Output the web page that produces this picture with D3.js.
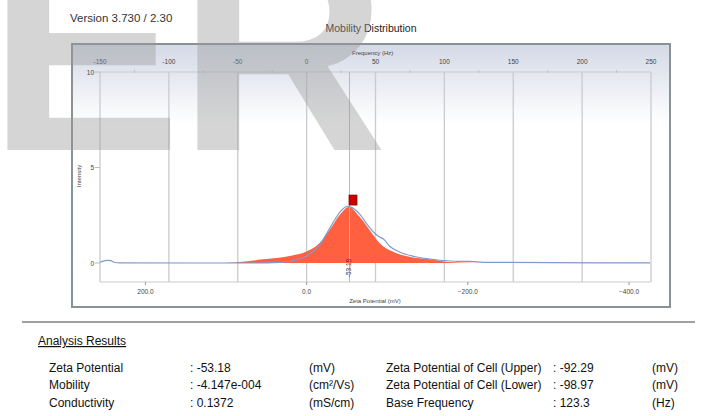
<!DOCTYPE html>
<html><head><meta charset="utf-8">
<script src="https://cdn.jsdelivr.net/npm/d3@7"></script>
<style>
body{margin:0;background:#fff;}
svg{display:block;font-family:"Liberation Sans",Arial,sans-serif;}
</style></head>
<body><svg id="c" width="702" height="416"></svg>
<script>
// ---- data ----
const freqTicks = [-150,-100,-50,0,50,100,150,200,250];
const freqMinor = [-125,-75,-25,25,75,125,175,225];
const zetaTicks = [200,0,-200,-400];
const intensityTicks = [0,5,10];
const mvPerHz = 1.709; // zeta (mV) = -mvPerHz * frequency (Hz)
// measured distribution (red fill)
const distFreq = [-60,-46.4,-31.9,-12.3,-0.2,9.4,16.7,23.9,30.7,38.4,45.7,52.9,62.3,74.6,89.1,100,110.9,125];
const distInt  = [0,0.06,0.19,0.37,0.6,1.05,1.73,2.51,2.93,2.42,1.73,1.05,0.6,0.33,0.19,0.08,0.02,0];
// fitted curve (blue line)
const fitFreq = [-150,-147.8,-144.9,-142,-139.9,-135.5,-77.5,-41.3,-19.6,-12.3,-5.1,2.2,9.4,15.2,20.3,25.4,29.7,32.6,38.4,44.2,49.3,52.9,55.8,60.1,67.4,78.3,89.1,100,110.9,118.1,125.4,139.9,212.3,249.3];
const fitInt  = [0.04,0.1,0.14,0.12,0.04,0.01,0,0,0.03,0.08,0.21,0.47,0.94,1.62,2.25,2.77,2.96,2.91,2.57,2.0,1.57,1.36,1.26,0.89,0.58,0.34,0.21,0.13,0.08,0.09,0.05,0.03,0.01,0.01];
const peakZeta = -53.18;
const resultsLeft = [["Zeta Potential",": -53.18","(mV)"],["Mobility",": -4.147e-004","(cm²/Vs)"],["Conductivity",": 0.1372","(mS/cm)"]];
const resultsRight = [["Zeta Potential of Cell (Upper)",": -92.29","(mV)"],["Zeta Potential of Cell (Lower)",": -98.97","(mV)"],["Base Frequency",": 123.3","(Hz)"]];

const svg = d3.select("#c");
const defs = svg.append("defs");
const g = defs.append("linearGradient").attr("id","bg").attr("x1",0).attr("y1",0).attr("x2",0).attr("y2",1);
g.append("stop").attr("offset","0%").attr("stop-color","#d3d9e6");
g.append("stop").attr("offset","30%").attr("stop-color","#ffffff");
g.append("stop").attr("offset","100%").attr("stop-color","#ffffff");

// texts above
svg.append("text").attr("x",70).attr("y",22).attr("font-size",11.5).attr("fill","#333").text("Version 3.730 / 2.30");
svg.append("text").attr("x",371).attr("y",32).attr("text-anchor","middle").attr("font-size",10.5).attr("fill","#222").text("Mobility Distribution");

// panel
svg.append("rect").attr("x",72).attr("y",44).attr("width",598).attr("height",263)
  .attr("fill","url(#bg)").attr("stroke","#8a9298").attr("stroke-width",2);

const x = d3.scaleLinear().domain([-150,250]).range([100,651]);
const z = d3.scaleLinear().domain([150*mvPerHz,-250*mvPerHz]).range([100,651]);
const y = d3.scaleLinear().domain([0,10]).range([263,72]);
const yTop=72, yBot=282;

// gridlines
svg.append("g").selectAll("line").data(freqTicks).join("line")
  .attr("x1",d=>x(d)).attr("x2",d=>x(d)).attr("y1",yTop).attr("y2",yBot)
  .attr("stroke","#c9cbd0").attr("stroke-width",1.3);
// top axis line
svg.append("line").attr("x1",100).attr("x2",651).attr("y1",yTop).attr("y2",yTop).attr("stroke","#c9cbd0");
svg.append("g").selectAll("line").data(freqMinor).join("line")
  .attr("x1",d=>x(d)).attr("x2",d=>x(d)).attr("y1",yTop-2).attr("y2",yTop+1).attr("stroke","#c0c2c8");
svg.append("line").attr("x1",100).attr("x2",651).attr("y1",yBot).attr("y2",yBot).attr("stroke","#c9cbd0");
svg.append("g").selectAll("text").data(freqTicks).join("text")
  .attr("x",d=>x(d)).attr("y",64).attr("text-anchor","middle").attr("font-size",6.5).attr("fill","#444").text(d=>d);
svg.append("text").attr("x",352).attr("y",55).attr("font-size",6).attr("fill","#444").text("Frequency (Hz)");

// bottom zeta axis
svg.append("g").selectAll("line").data(zetaTicks).join("line")
  .attr("x1",d=>z(d)).attr("x2",d=>z(d)).attr("y1",yBot).attr("y2",yBot+3).attr("stroke","#999");
svg.append("g").selectAll("text").data(zetaTicks).join("text")
  .attr("x",d=>z(d)).attr("y",294).attr("text-anchor","middle").attr("font-size",6.5).attr("fill","#444").text(d=>d3.format(".1f")(d));
svg.append("text").attr("x",375).attr("y",302.5).attr("text-anchor","middle").attr("font-size",6).attr("fill","#444").text("Zeta Potential (mV)");

// y axis
svg.append("g").selectAll("text").data(intensityTicks).join("text")
  .attr("x",94).attr("y",d=>y(d)+2.5).attr("text-anchor","end").attr("font-size",6.5).attr("fill","#444").text(d=>d);
svg.append("g").selectAll("line").data(intensityTicks).join("line")
  .attr("x1",95).attr("x2",100).attr("y1",d=>y(d)).attr("y2",d=>y(d)).attr("stroke","#bbb");
svg.append("text").attr("transform","translate(81,176) rotate(-90)").attr("text-anchor","middle").attr("font-size",6).attr("fill","#444").text("Intensity");

// distribution fill
const dist = distFreq.map((f,i)=>[f,distInt[i]]);
svg.append("path").datum(dist)
  .attr("d",d3.area().x(d=>x(d[0])).y0(y(0)).y1(d=>y(d[1])).curve(d3.curveMonotoneX))
  .attr("fill","#ff6040");
// peak line
svg.append("line").attr("x1",z(peakZeta)).attr("x2",z(peakZeta)).attr("y1",yTop).attr("y2",yBot)
  .attr("stroke","#e89ae8").attr("stroke-width",1);
// fit line
const fit = fitFreq.map((f,i)=>[f,fitInt[i]]);
svg.append("path").datum(fit)
  .attr("d",d3.line().x(d=>x(d[0])).y(d=>y(d[1])).curve(d3.curveMonotoneX))
  .attr("fill","none").attr("stroke","#7f9ad0").attr("stroke-width",1.2);
// peak marker
const peakI = d3.max(distInt);
svg.append("rect").attr("x",z(peakZeta)-0.5).attr("y",y(peakI)-12).attr("width",8).attr("height",10)
  .attr("fill","#cc0000").attr("stroke","#7a0000").attr("stroke-width",0.7);
svg.append("text").attr("transform",`translate(${z(peakZeta)+2},268) rotate(-90)`).attr("text-anchor","middle")
  .attr("font-size",6.5).attr("fill","#333").text(peakZeta);

// separator
svg.append("line").attr("x1",22).attr("x2",695).attr("y1",322).attr("y2",322).attr("stroke","#444").attr("stroke-width",1.2);
svg.append("text").attr("x",38).attr("y",345).attr("font-size",12).attr("fill","#111").attr("text-decoration","underline").text("Analysis Results");
const rowY = [372,389,407];
resultsLeft.forEach((r,i)=>{
  svg.append("text").attr("x",49).attr("y",rowY[i]).attr("font-size",12).attr("fill","#111").text(r[0]);
  svg.append("text").attr("x",190).attr("y",rowY[i]).attr("font-size",12).attr("fill","#111").text(r[1]);
  svg.append("text").attr("x",309).attr("y",rowY[i]).attr("font-size",12).attr("fill","#111").text(r[2]);
});
resultsRight.forEach((r,i)=>{
  svg.append("text").attr("x",386).attr("y",rowY[i]).attr("font-size",12).attr("fill","#111").text(r[0]);
  svg.append("text").attr("x",553).attr("y",rowY[i]).attr("font-size",12).attr("fill","#111").text(r[1]);
  svg.append("text").attr("x",652).attr("y",rowY[i]).attr("font-size",12).attr("fill","#111").text(r[2]);
});

// watermark
svg.append("text").attr("x",-12).attr("y",150).attr("font-size",290).attr("font-weight","bold")
  .attr("fill","#9a9a9a").attr("fill-opacity",0.42).text("E");
svg.append("text").attr("x",178).attr("y",150).attr("font-size",290).attr("font-weight","bold")
  .attr("fill","#9a9a9a").attr("fill-opacity",0.42).text("R");
</script></body></html>
